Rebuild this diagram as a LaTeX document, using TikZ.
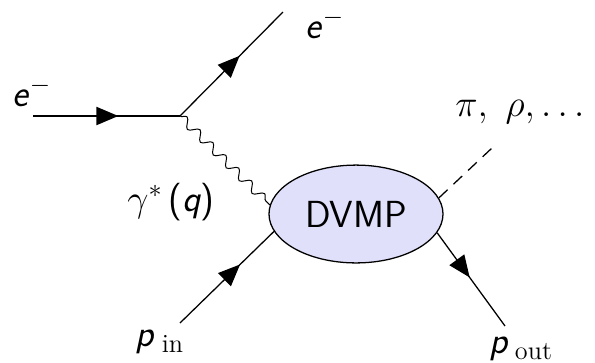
\documentclass[tikz,border=0pt]{standalone}
\usepackage{fontspec}
\usetikzlibrary{shapes.geometric,decorations.pathmorphing,decorations.markings,arrows.meta}
\definecolor{blobfill}{RGB}{224,224,250}
\tikzset{
  lbl/.style={font=\huge, inner sep=0pt},
  fermion/.style={line width=0.7pt, postaction={decorate},
    decoration={markings, mark=at position #1 with {\arrow{Triangle[length=12pt,width=10pt]}}}},
  photon/.style={line width=0.55pt, decorate, decoration={snake, segment length=10pt, amplitude=2.4pt}},
  scalar/.style={line width=0.7pt, dash pattern=on 6.6pt off 4.4pt},
  blob/.style={ellipse, draw, line width=0.7pt, fill=blobfill, minimum width=95.7pt, minimum height=53.8pt, inner sep=0pt, font=\huge\sffamily}
}
\begin{document}
\begin{tikzpicture}[x=0.55pt, y=-0.55pt]
\useasboundingbox (0,0) rectangle (595,362);
\coordinate (ein) at (33,116);
\coordinate (v) at (180,116);
\coordinate (eout) at (283,12);
\coordinate (pin) at (180,323);
\coordinate (pout) at (505,326);
\coordinate (mes) at (492,148);
\node[blob] (dvmp) at (356,214) {DVMP};
\draw[fermion=0.58] (ein) -- (v);
\draw[fermion=0.58] (v) -- (eout);
\draw[photon] (v) -- (dvmp.174);
\draw[fermion=0.64] (pin) -- (dvmp.192);
\draw[fermion=0.48] (dvmp.347) -- (pout);
\draw[scalar] (dvmp.11) -- (mes);
\node[lbl] (l1) at (32,92) {\textsf{\slshape e}$^-$};
\node[lbl] (l2) at (325,24) {\textsf{\slshape e}$^-$};
\node[lbl] (l3) at (171,202) {$\gamma^*$\,\textsf{(\slshape q\upshape)}};
\node[lbl] (l4) at (520,112) {$\pi,\ \rho,\ldots$};
\node[lbl] (l5) at (160,342) {\textsf{\slshape p}\,$_{\mathrm{in}}$};
\node[lbl] (l6) at (521,349) {\textsf{\slshape p}\,$_{\mathrm{out}}$};
\end{tikzpicture}
\end{document}
